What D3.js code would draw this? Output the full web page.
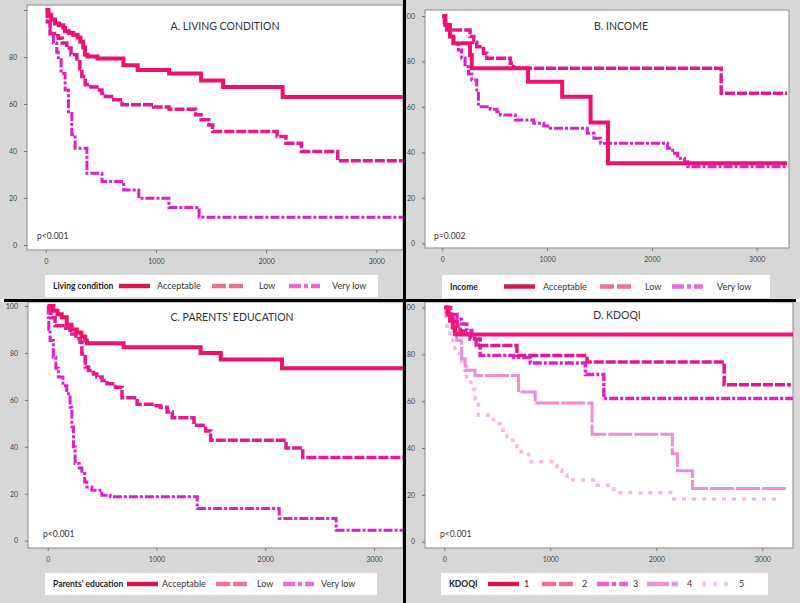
<!DOCTYPE html>
<html>
<head>
<meta charset="utf-8">
<script src="https://d3js.org/d3.v7.min.js"></script>
<style>
  body { margin: 0; background: #fff; }
  svg { display: block; font-family: Lato, "Open Sans", sans-serif; }
  .tick text { fill: #444; font-size: 7px; }
  .tick line { stroke: #777; }
</style>
</head>
<body>
<svg id="chart" width="800" height="603"></svg>
<script>
// survival curves, [days, % surviving]
var livingAcceptable = [[0,100],[25,98],[50,96],[84,94.3],[120,93.5],[160,92.5],[175,91],[210,90.2],[250,89.4],[290,88.3],[315,86.5],[340,84],[357,81],[380,80.2],[470,79.4],[705,76.5],[835,74.5],[1120,73],[1410,70],[1610,67.2],[2150,63],[3300,63]];
var livingLow = [[0,100],[15,95],[40,90],[80,89],[115,88],[150,86],[191,83.8],[230,81],[283,78],[310,75],[328,71.7],[359,68.2],[410,67.2],[465,66],[510,64.5],[541,63.2],[617,61.8],[693,59.7],[980,58.7],[1120,57.8],[1360,55.4],[1410,53.3],[1480,51.1],[1515,48.3],[2100,46.2],[2180,43.3],[2320,39.8],[2650,35.8],[3300,35.8]];
var livingVeryLow = [[0,100],[15,95],[40,90],[70,86],[100,82],[115,78.8],[140,73],[176,66],[207,56],[237,46.9],[267,41.2],[374,30.5],[511,27],[708,23.4],[845,19.9],[1118,16],[1392,11.8],[3300,11.8]];

var incomeAcceptable = [[0,100],[30,96],[73,91],[105,88],[265,82.8],[281,77],[818,71.1],[1144,64.5],[1415,53.1],[1581,35.2],[3290,35.2]];
var incomeLow = [[0,100],[20,97],[42,93.8],[265,91],[300,88.5],[329,86.5],[393,83.6],[425,81.4],[649,79.2],[681,77],[2661,66],[3290,66]];
var incomeVeryLow = [[0,100],[30,96],[73,91],[110,88],[153,85],[185,81.5],[217,77.7],[250,74.5],[281,71.8],[329,67.4],[345,60.1],[457,59],[521,57.9],[553,56.5],[696,54.3],[872,52.8],[968,51.6],[1032,50.6],[1383,48.4],[1447,46.2],[1511,44],[2150,41.8],[2198,39.6],[2246,37.4],[2310,35.9],[2342,33.7],[3290,33.7]];

var eduAcceptable = [[0,100],[52,98],[90,96.5],[129,95.2],[175,92],[220,90],[268,88.7],[310,87],[345,85.3],[360,84.1],[698,82.4],[1406,80],[1591,77.2],[2154,73.5],[3300,73.5]];
var eduLow = [[0,99],[30,95],[68,91.6],[140,90.5],[206,88.1],[260,86],[298,84.6],[314,79.6],[345,74],[375,72.5],[420,71],[452,69.7],[500,68.3],[545,66.9],[622,65.4],[683,60.9],[822,58.1],[975,57.5],[1037,56.9],[1098,54.8],[1145,52.4],[1345,49.2],[1452,46.7],[1498,42.8],[2191,39.5],[2345,35.4],[3300,35.4]];
var eduVeryLow = [[0,100],[5,95],[10,90],[22,85.3],[52,78.2],[75,73.5],[98,69.7],[140,66],[175,62.6],[206,56.9],[222,48.4],[237,40],[252,32.9],[290,31],[314,28.6],[340,25],[360,22.9],[406,21.5],[498,19.4],[575,18.7],[1375,13.7],[2129,9.5],[2652,4.5],[3300,4.5]];

var kdoqi1 = [[0,100],[30,97],[54,94.5],[80,91.5],[101,88.8],[115,88.5],[3290,88.5]];
var kdoqi2 = [[0,100],[40,97],[80,94],[120,92],[150,90],[180,88.8],[243,86.6],[338,83.8],[685,79.5],[1347,76.7],[2640,67],[3270,67]];
var kdoqi3 = [[0,100],[60,97],[120,95],[160,93],[211,90.2],[260,87],[300,84],[338,79.5],[653,78.6],[811,76.3],[1331,71.4],[1505,61.1],[3290,61.1]];
var kdoqi4 = [[0,98],[50,94],[90,90],[117,85.9],[164,78.1],[196,73.2],[290,71],[700,63.9],[858,59.2],[1394,45.9],[2151,37.6],[2199,30.3],[2341,22.7],[3240,22.7]];
var kdoqi5 = [[0,96],[25,92],[54,87.4],[80,84],[101,80.3],[164,76],[211,70.3],[250,65],[290,60.4],[322,54],[416,53.3],[464,50.4],[527,47.6],[590,43.3],[685,38.4],[795,34.1],[1063,30.5],[1110,28.5],[1158,26.3],[1442,24.1],[1599,20.9],[2136,18.2],[3145,18.2]];

var xTicks = [0, 1000, 2000, 3000];
var yTicks = [0, 20, 40, 60, 80, 100];
var groupLabels = ["Acceptable", "Low", "Very low"];
var kdoqiLabels = ["1", "2", "3", "4", "5"];

// line looks
var look = {
    acceptable: {color: "#f2106f", width: 4, dash: null, key: "#d3184f", keyDash: null},
    low:        {color: "#e8168f", width: 3.5, dash: "10,2", key: "#e8728f", keyDash: "14,3"},
    veryLow:    {color: "#df1ed2", width: 3, dash: "9,2,3,2", key: "#e96ad8", keyDash: "12,3,4,3"},
    k1: {color: "#f8137c", width: 4, dash: null, key: "#d3184f", keyDash: null},
    k2: {color: "#e6178e", width: 3.5, dash: "10,2", key: "#e8728f", keyDash: "14,3"},
    k3: {color: "#dc22c8", width: 3.5, dash: "9,2,3,2", key: "#e562d4", keyDash: "12,3,4,3"},
    k4: {color: "#f38ad6", width: 3, dash: "24,2", key: "#f08fd8", keyDash: "22,3"},
    k5: {color: "#f6b8e6", width: 3.5, dash: "4,6", key: "#f4c4ec", keyDash: "4,7"}
};

var panels = [
    {bg: [0, 0, 403, 299], plot: [27, 5, 376, 245], xr: [45.7, 376.3], yr: [245, 10], yLabels: [0,20,40,60,80],
     title: "A. LIVING CONDITION", tx: 225, ty: 30, p: "p<0.001", px: 37, py: 239,
     box: [45, 275, 333, 22], keyTitle: "Living condition", keyX: [119, 212, 289], textX: [157, 259, 332],
     series: [livingAcceptable, livingLow, livingVeryLow], looks: ["acceptable", "low", "veryLow"], names: groupLabels},
    {bg: [406, 0, 394, 299], plot: [425, 10, 364, 238], xr: [442.3, 756.7], yr: [243.3, 16], yLabels: yTicks,
     title: "B. INCOME", tx: 621, ty: 30, p: "p=0.002", px: 434, py: 239,
     box: [442, 275, 328, 23], keyTitle: "Income", keyX: [504, 600, 672], textX: [543, 645, 717],
     series: [incomeAcceptable, incomeLow, incomeVeryLow], looks: ["acceptable", "low", "veryLow"], names: groupLabels},
    {bg: [0, 302, 403, 301], plot: [28, 302, 375, 246], xr: [47.7, 374], yr: [540.7, 306], yLabels: yTicks,
     title: "C. PARENTS\u2019 EDUCATION", tx: 232, ty: 321, p: "p<0.001", px: 43, py: 537,
     box: [45, 573, 332, 22], keyTitle: "Parents\u2019 education", keyX: [127, 216, 283], textX: [162, 257, 321],
     series: [eduAcceptable, eduLow, eduVeryLow], looks: ["acceptable", "low", "veryLow"], names: groupLabels},
    {bg: [406, 302, 394, 301], plot: [425, 302, 368, 246], xr: [444.3, 762.3], yr: [541.7, 307.5], yLabels: yTicks,
     title: "D. KDOQI", tx: 617, ty: 319, p: "p<0.001", px: 440, py: 537,
     box: [441, 573, 327, 22], keyTitle: "KDOQI", keyX: [488, 542, 597, 647, 702], textX: [524, 582, 633, 687, 739],
     series: [kdoqi1, kdoqi2, kdoqi3, kdoqi4, kdoqi5], looks: ["k1", "k2", "k3", "k4", "k5"], names: kdoqiLabels}
];

var svg = d3.select("#chart");
svg.append("rect").attr("width", 800).attr("height", 603).attr("fill", "#fff");

panels.forEach(function(cfg, i) {
    var g = svg.append("g");
    g.append("rect")
        .attr("x", cfg.bg[0]).attr("y", cfg.bg[1])
        .attr("width", cfg.bg[2]).attr("height", cfg.bg[3])
        .attr("fill", "#d7d7d7");
    g.append("rect")
        .attr("x", cfg.plot[0]).attr("y", cfg.plot[1])
        .attr("width", cfg.plot[2]).attr("height", cfg.plot[3])
        .attr("fill", "#fff").attr("stroke", "#9a9a9a").attr("stroke-width", 1.2);

    var x = d3.scaleLinear().domain([0, 3000]).range(cfg.xr);
    var y = d3.scaleLinear().domain([0, 100]).range(cfg.yr);
    var bottom = cfg.plot[1] + cfg.plot[3];

    // axes
    var ya = g.append("g")
        .attr("transform", "translate(" + cfg.plot[0] + ",0)")
        .call(d3.axisLeft(y).tickValues(yTicks).tickSize(3).tickPadding(7)
            .tickFormat(function(d) { return cfg.yLabels.indexOf(d) >= 0 ? d : ""; }));
    ya.select(".domain").remove();
    var xa = g.append("g")
        .attr("transform", "translate(0," + bottom + ")")
        .call(d3.axisBottom(x).tickValues(xTicks).tickSize(3).tickPadding(6).tickFormat(d3.format("d")));
    xa.select(".domain").remove();
    g.selectAll(".tick text").attr("font-family", "Lato, sans-serif");

    // curves
    var clipId = "clip" + i;
    g.append("clipPath").attr("id", clipId).append("rect")
        .attr("x", cfg.plot[0]).attr("y", cfg.plot[1])
        .attr("width", cfg.plot[2]).attr("height", cfg.plot[3]);
    var line = d3.line()
        .x(function(d) { return x(d[0]); })
        .y(function(d) { return y(d[1]); })
        .curve(d3.curveStepAfter);
    var curves = g.append("g").attr("clip-path", "url(#" + clipId + ")");
    cfg.series.slice().reverse().forEach(function(s, j) {
        var lk = look[cfg.looks[cfg.series.length - 1 - j]];
        curves.append("path")
            .attr("d", line(s))
            .attr("fill", "none")
            .attr("stroke", lk.color)
            .attr("stroke-width", lk.width)
            .attr("stroke-dasharray", lk.dash);
    });

    // title and p value
    g.append("text").attr("x", cfg.tx).attr("y", cfg.ty)
        .attr("text-anchor", "middle").attr("font-size", 10.5).attr("fill", "#333")
        .text(cfg.title);
    g.append("text").attr("x", cfg.px).attr("y", cfg.py)
        .attr("font-size", 8.5).attr("fill", "#333")
        .text(cfg.p);

    // legend
    var b = cfg.box;
    g.append("rect").attr("x", b[0]).attr("y", b[1]).attr("width", b[2]).attr("height", b[3]).attr("fill", "#fff");
    var cy = b[1] + b[3] / 2;
    g.append("text").attr("x", b[0] + 8).attr("y", cy + 3)
        .attr("font-size", 8.5).attr("font-weight", "bold").attr("fill", "#222")
        .text(cfg.keyTitle);
    cfg.names.forEach(function(n, j) {
        var lk = look[cfg.looks[j]];
        g.append("line")
            .attr("x1", cfg.keyX[j]).attr("x2", cfg.keyX[j] + 31)
            .attr("y1", cy).attr("y2", cy)
            .attr("stroke", lk.key).attr("stroke-width", 4.5)
            .attr("stroke-dasharray", lk.keyDash);
        g.append("text").attr("x", cfg.textX[j]).attr("y", cy + 3)
            .attr("font-size", 9).attr("fill", "#333")
            .text(n);
    });
});

// black dividers
svg.append("rect").attr("x", 403).attr("y", 0).attr("width", 3).attr("height", 603).attr("fill", "#000");
svg.append("rect").attr("x", 4).attr("y", 299).attr("width", 792).attr("height", 3).attr("fill", "#000");
</script>
</body>
</html>
